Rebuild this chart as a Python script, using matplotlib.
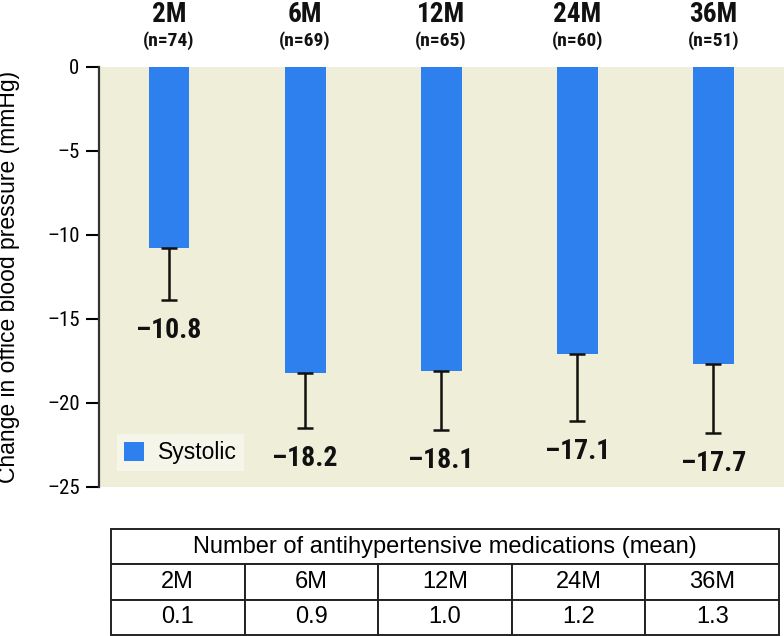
import matplotlib
matplotlib.use("Agg")
import matplotlib.pyplot as plt
import numpy as np

months = ["2M", "6M", "12M", "24M", "36M"]
n_patients = [74, 69, 65, 60, 51]
systolic = [-10.8, -18.2, -18.1, -17.1, -17.7]
sd_err = [3.1, 3.3, 3.5, 4.0, 4.1]
meds = ["0.1", "0.9", "1.0", "1.2", "1.3"]

cond = ["Roboto Condensed", "Liberation Sans Narrow", "DejaVu Sans"]
plain = ["Liberation Sans", "DejaVu Sans"]
bar_col = "#2e80ee"
bg_col = "#efeed8"
dash = "\u2013"

fig = plt.figure(figsize=(7.84, 6.36), dpi=100)
ax = fig.add_axes([0.1263, 0.2343, 0.8737, 0.6604])
ax.set_facecolor(bg_col)

x = np.arange(len(months))
ax.bar(x, systolic, width=0.30, color=bar_col, label="Systolic", zorder=2)
ax.errorbar(x, systolic, yerr=[sd_err, [0] * len(x)], fmt="none", ecolor="#111111",
            elinewidth=1.8, capsize=5.5, capthick=1.8, zorder=3)

for xi, v, e in zip(x, systolic, sd_err):
    ax.text(xi, v - e - 1.0, dash + "%.1f" % abs(v), ha="center", va="top",
            fontsize=20, fontweight="bold", family=cond, color="#111111")

for xi, m, n in zip(x, months, n_patients):
    ax.text(xi, 2.3, m, ha="center", va="bottom", fontsize=19.5, fontweight="bold",
            family=cond, color="#111111", clip_on=False)
    ax.text(xi, 1.0, "(n=%d)" % n, ha="center", va="bottom", fontsize=14,
            fontweight="bold", family=cond, color="#111111", clip_on=False)

ax.set_xlim(-0.515, 4.52)
ax.set_ylim(-25, 0)
ax.set_xticks([])
yt = [0, -5, -10, -15, -20, -25]
ax.set_yticks(yt)
ax.set_yticklabels([str(t) if t == 0 else dash + str(-t) for t in yt],
                   family=cond, fontsize=15)
ax.tick_params(axis="y", direction="out", length=9.5, width=1.5, pad=4.5)
for s in ["top", "right", "bottom"]:
    ax.spines[s].set_visible(False)
ax.spines["left"].set_linewidth(1.6)
ax.spines["left"].set_color("#333333")
ax.set_ylabel("Change in office blood pressure (mmHg)", fontsize=16.5, family=plain)
ax.yaxis.set_label_coords(-0.116, 0.5)

leg = ax.legend(loc="lower left", bbox_to_anchor=(0.026, 0.038), borderaxespad=0,
                frameon=True, fancybox=False, handlelength=0.9, handleheight=0.9,
                borderpad=0.3, handletextpad=0.6, prop={"family": plain, "size": 16.5})
leg.get_frame().set_facecolor("#f7f7ee")
leg.get_frame().set_edgecolor("none")

tax = fig.add_axes([0.1416, 0.0016, 0.852, 0.1667])
tax.axis("off")
cells = [[""] * 5, months, meds]
tab = tax.table(cellText=cells, cellLoc="center", bbox=[0, 0, 1, 1])
tab.auto_set_font_size(False)
for (r, c), cell in tab.get_celld().items():
    cell.set_linewidth(1.4)
    cell.set_edgecolor("#222222")
    cell.get_text().set_fontsize(17)
    cell.get_text().set_family(plain)
    if r == 0:
        if c == 0:
            cell.visible_edges = "BLT"
        elif c == 4:
            cell.visible_edges = "BRT"
        else:
            cell.visible_edges = "BT"
tax.text(0.5, 5 / 6, "Number of antihypertensive medications (mean)", ha="center",
         va="center", fontsize=17, family=plain, transform=tax.transAxes)

fig.savefig("out.png", dpi=100)
